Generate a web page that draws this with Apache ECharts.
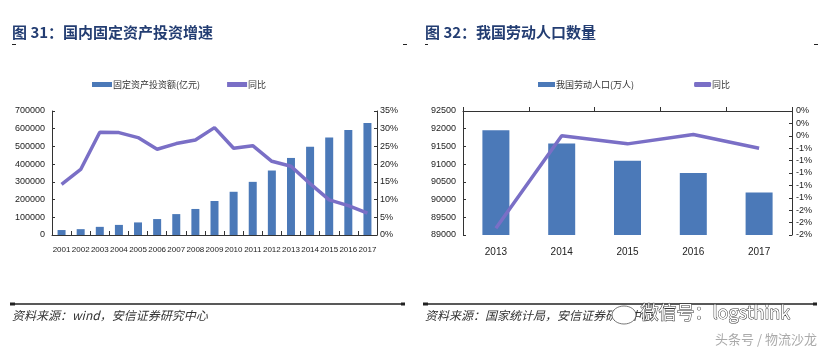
<!DOCTYPE html>
<html>
<head>
<meta charset="utf-8">
<script src="https://cdn.jsdelivr.net/npm/echarts@6/dist/echarts.min.js"></script>
<style>
    html, body { margin: 0; padding: 0; background: #fff; }
    #main { width: 828px; height: 351px; }
</style>
</head>
<body>
<div id="main"></div>
<script>
    // 图31 数据
    var investYears = ['2001', '2002', '2003', '2004', '2005', '2006', '2007', '2008', '2009',
        '2010', '2011', '2012', '2013', '2014', '2015', '2016', '2017'];
    var investAmount = [28000, 33000, 46000, 57000, 71000, 90000, 118000, 147000, 192000,
        244000, 300000, 364000, 435000, 498000, 550000, 593000, 632000];
    var investRate = [14.3, 18.5, 29.0, 28.9, 27.5, 24.2, 25.8, 26.8, 30.3,
        24.5, 25.2, 20.8, 19.4, 14.5, 9.9, 8.3, 6.2];

    // 图32 数据
    var laborYears = ['2013', '2014', '2015', '2016', '2017'];
    var laborAmount = [91954, 91583, 91096, 90747, 90199];
    var laborRate = [-1.89, -0.40, -0.53, -0.38, -0.60];
    // 右轴刻度文字（从下到上），原图按整数百分比显示
    var laborRateLabels = ['-2%', '-2%', '-2%', '-1%', '-1%', '-1%', '-1%', '-1%', '0%', '0%', '0%'];
    var laborRateMin = -2, laborRateStep = 0.2;

    var numFont = "'Liberation Sans',Arial,sans-serif";
    var cjkFont = "'Noto Sans CJK SC',sans-serif";
    var barColor = '#4b79b8', lineColor = '#7a6fc6', axisColor = '#333';

    function plain(v) {
        return String(v);
    }
    function valueAxis(grid, pos, min, max, interval, margin, formatter) {
        return {
            type: 'value', gridIndex: grid, position: pos,
            min: min, max: max, interval: interval,
            splitLine: { show: false },
            axisLine: { show: true, lineStyle: { color: axisColor, width: 1 } },
            axisTick: { show: true, inside: true, length: 3, lineStyle: { color: axisColor } },
            axisLabel: { margin: margin, fontSize: 9, color: '#222', fontFamily: numFont, formatter: formatter }
        };
    }
    function catAxis(grid, data, margin, size) {
        return {
            type: 'category', gridIndex: grid, data: data,
            axisLine: { lineStyle: { color: axisColor, width: 1 } },
            axisTick: { show: true, inside: true, length: 4, lineStyle: { color: axisColor } },
            axisLabel: { interval: 0, margin: margin, fontSize: size, color: '#222', fontFamily: numFont }
        };
    }

    var myChart = echarts.init(document.getElementById('main'));
    var option = {
        animation: false,
        backgroundColor: '#fff',
        grid: [
            { left: 52, right: 451, top: 111, bottom: 116 },
            { left: 463, right: 36, top: 111, bottom: 116 }
        ],
        legend: [{
            left: 87, top: 75, itemGap: 27, itemWidth: 20, itemHeight: 5,
            textStyle: { fontSize: 9, color: '#333', fontFamily: cjkFont, padding: [0, 0, 0, -4] },
            data: [{ name: '固定资产投资额(亿元)', icon: 'rect' }, { name: '同比', icon: 'rect' }]
        }, {
            left: 533, top: 75, itemGap: 60, itemWidth: 17, itemHeight: 5,
            textStyle: { fontSize: 9, color: '#333', fontFamily: cjkFont, padding: [0, 0, 0, -4] },
            data: [{ name: '我国劳动人口(万人)', icon: 'rect' }, { name: '同比 ', icon: 'roundRect' }]
        }],
        xAxis: [catAxis(0, investYears, 11, 8), catAxis(1, laborYears, 12, 10)],
        yAxis: [
            valueAxis(0, 'left', 0, 700000, 100000, 7, plain),
            valueAxis(0, 'right', 0, 35, 5, 3, '{value}%'),
            valueAxis(1, 'left', 89000, 92500, 500, 7, plain),
            valueAxis(1, 'right', laborRateMin, 0, laborRateStep, 4, function (v) {
                var i = Math.round((v - laborRateMin) / laborRateStep);
                return laborRateLabels[i];
            })
        ],
        series: [{
            name: '固定资产投资额(亿元)', type: 'bar', xAxisIndex: 0, yAxisIndex: 0,
            barWidth: 8, itemStyle: { color: barColor }, data: investAmount
        }, {
            name: '同比', type: 'line', xAxisIndex: 0, yAxisIndex: 1,
            symbol: 'none', lineStyle: { color: lineColor, width: 3.5 }, itemStyle: { color: lineColor },
            data: investRate
        }, {
            name: '我国劳动人口(万人)', type: 'bar', xAxisIndex: 1, yAxisIndex: 2,
            barWidth: 27, itemStyle: { color: barColor }, data: laborAmount
        }, {
            name: '同比 ', type: 'line', xAxisIndex: 1, yAxisIndex: 3,
            symbol: 'none', lineStyle: { color: lineColor, width: 3.5 }, itemStyle: { color: lineColor },
            data: laborRate
        }],
        graphic: [
            // 标题
            { type: 'text', left: 12, top: 25, style: { text: '图 31：国内固定资产投资增速', fill: '#233d72', font: 'bold 15px ' + cjkFont } },
            { type: 'text', left: 425, top: 25, style: { text: '图 32：我国劳动人口数量', fill: '#233d72', font: 'bold 15px ' + cjkFont } },
            // 标题下小标记
            { type: 'rect', shape: { x: 12, y: 44, width: 4, height: 1 }, style: { fill: '#222' } },
            { type: 'rect', shape: { x: 403, y: 44, width: 4, height: 1 }, style: { fill: '#222' } },
            { type: 'rect', shape: { x: 425, y: 44, width: 3, height: 1 }, style: { fill: '#222' } },
            { type: 'rect', shape: { x: 814, y: 44, width: 4, height: 1 }, style: { fill: '#222' } },
            // 底部横线
            { type: 'line', shape: { x1: 10, y1: 304, x2: 405, y2: 304 }, style: { stroke: '#222', lineWidth: 1.5 } },
            { type: 'line', shape: { x1: 423, y1: 304, x2: 817, y2: 304 }, style: { stroke: '#222', lineWidth: 1.5 } },
            { type: 'rect', shape: { x: 10, y: 302.5, width: 5, height: 3 }, style: { fill: '#222' } },
            { type: 'rect', shape: { x: 401, y: 302.5, width: 4, height: 3 }, style: { fill: '#222' } },
            { type: 'rect', shape: { x: 423, y: 302.5, width: 5, height: 3 }, style: { fill: '#222' } },
            { type: 'rect', shape: { x: 813, y: 302.5, width: 4, height: 3 }, style: { fill: '#222' } },
            // 资料来源
            { type: 'text', left: 12, top: 309, style: { text: '资料来源：wind，安信证券研究中心', fill: '#333', font: 'italic 12px ' + cjkFont } },
            { type: 'text', left: 425, top: 309, style: { text: '资料来源：国家统计局，安信证券研究中心', fill: '#333', font: 'italic 12px ' + cjkFont } },
            // 水印
            { type: 'ellipse', shape: { cx: 624, cy: 315, rx: 12, ry: 9 }, style: { fill: '#fff', stroke: '#555', lineWidth: 0.8 } },
            { type: 'text', left: 640, top: 303, style: { text: '微信号：logsthink', fill: '#fff', stroke: '#333', lineWidth: 1, font: '18px ' + cjkFont } },
            { type: 'text', left: 715, top: 333, style: { text: '头条号 / 物流沙龙', fill: '#aaa', font: '13px ' + cjkFont } }
        ]
    };
    myChart.setOption(option);
</script>
</body>
</html>
